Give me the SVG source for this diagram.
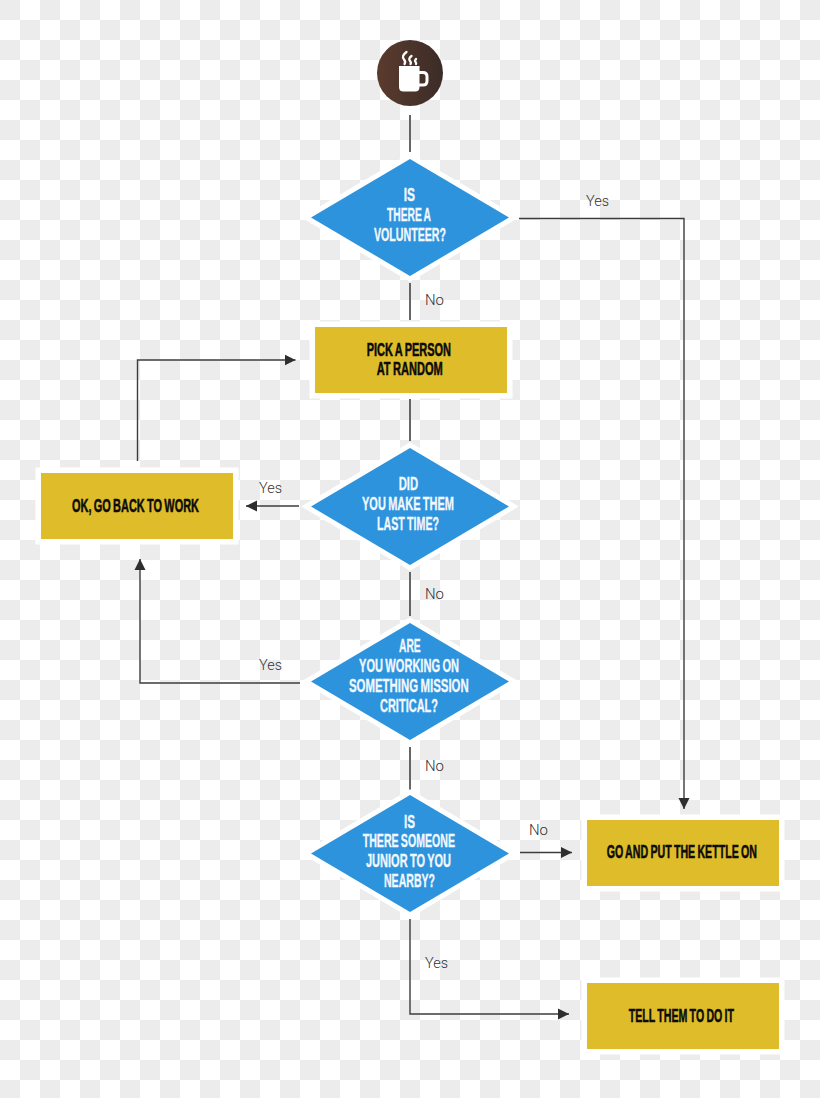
<svg xmlns="http://www.w3.org/2000/svg" width="820" height="1098" viewBox="0 0 820 1098">
  <defs>
    <pattern id="checks" width="40" height="40" patternUnits="userSpaceOnUse">
      <rect width="40" height="40" fill="#ffffff"/>
      <rect width="20" height="20" fill="#ececec"/>
      <rect x="20" y="20" width="20" height="20" fill="#ececec"/>
    </pattern>
    <linearGradient id="mug-bg" x1="0" y1="0" x2="1" y2="0">
      <stop offset="0" stop-color="#5b3b2d"/>
      <stop offset="1" stop-color="#3b2c28"/>
    </linearGradient>
    <marker id="arrow" markerUnits="userSpaceOnUse" markerWidth="12" markerHeight="12" refX="11" refY="6" orient="auto">
      <path d="M0,0.5 L11,6 L0,11.5 z" fill="#2e2e2e"/>
    </marker>
  </defs>
  <style>
    .decision { fill: #2d93dd; stroke: #ffffff; stroke-width: 10; stroke-linejoin: miter; stroke-miterlimit: 10; paint-order: stroke; }
    .action { fill: #dfbc29; stroke: #ffffff; stroke-width: 11; paint-order: stroke; }
    .wire { fill: none; stroke: #3c3c3c; stroke-width: 1.4; }
    .stem { fill: none; stroke: #666666; stroke-width: 2; }
    .q { font-family: "Liberation Sans", Arial, sans-serif; font-weight: 700; font-size: 18.5px; word-spacing: -1.2px; fill: #f2f8fd; stroke: #f2f8fd; stroke-width: 0.35; }
    .a { font-family: "Liberation Sans", Arial, sans-serif; font-weight: 700; font-size: 18.5px; word-spacing: -1.2px; fill: #0c0c0c; stroke: #0c0c0c; stroke-width: 0.55; }
    .tag { font-family: Roboto, "Liberation Sans", sans-serif; font-weight: 300; font-size: 14.5px; fill: #333333; }
  </style>

  <rect id="backdrop" width="820" height="1098" fill="url(#checks)"/>

  <g id="connectors">
    <path class="stem" d="M410,115 V152"/>
    <path class="wire" d="M519,218.500 H684 V809" marker-end="url(#arrow)"/>
    <path class="stem" d="M410,283 V320"/>
    <path class="stem" d="M410,399 V441"/>
    <path class="wire" d="M137.500,461 V360 H295.500" marker-end="url(#arrow)"/>
    <path class="wire" d="M299,506 H246" marker-end="url(#arrow)"/>
    <path class="stem" d="M410,572 V616"/>
    <path class="wire" d="M300,683 H140 V559" marker-end="url(#arrow)"/>
    <path class="stem" d="M410,747 V790"/>
    <path class="wire" d="M520,852.500 H572" marker-end="url(#arrow)"/>
    <path class="wire" d="M410,919 V1014 H569" marker-end="url(#arrow)"/>
    <text class="tag" x="586" y="205.500" textLength="23" lengthAdjust="spacingAndGlyphs">Yes</text>
    <text class="tag" x="425" y="304.500" textLength="19" lengthAdjust="spacingAndGlyphs">No</text>
    <text class="tag" x="259" y="492.500" textLength="23" lengthAdjust="spacingAndGlyphs">Yes</text>
    <text class="tag" x="425" y="598.500" textLength="19" lengthAdjust="spacingAndGlyphs">No</text>
    <text class="tag" x="259" y="669.500" textLength="23" lengthAdjust="spacingAndGlyphs">Yes</text>
    <text class="tag" x="425" y="771" textLength="19" lengthAdjust="spacingAndGlyphs">No</text>
    <text class="tag" x="529" y="835" textLength="19" lengthAdjust="spacingAndGlyphs">No</text>
    <text class="tag" x="425" y="967.500" textLength="23" lengthAdjust="spacingAndGlyphs">Yes</text>
  </g>

  <g id="start">
    <circle cx="410" cy="73" r="33" fill="url(#mug-bg)"/>
    <path d="M399,66 H419.500 V87 Q419.500,91.500 415,91.500 H403.500 Q399,91.500 399,87 z" fill="#ffffff"/>
    <path d="M419,72.500 H423 Q427,72.500 427,76.500 V81 Q427,85 423,85 H419" fill="none" stroke="#ffffff" stroke-width="3"/>
    <path d="M406.500,52 Q401,56 404,59.500 Q406,62 404.500,64 M411.500,56 Q408,58.500 410,61 Q411.500,62.500 410.500,64 M416,59 Q414.500,61 415.500,62 Q416.500,63 416,64" fill="none" stroke="#ffffff" stroke-width="2.300" stroke-linecap="round"/>
  </g>

  <g id="volunteer">
    <polygon class="decision" points="410,159 509,217.500 410,276 311,217.500"/>
    <text class="q" x="403.700" y="201" textLength="11.300" lengthAdjust="spacingAndGlyphs">IS</text>
    <text class="q" x="387" y="221" textLength="44" lengthAdjust="spacingAndGlyphs">THERE A</text>
    <text class="q" x="374" y="240.500" textLength="72" lengthAdjust="spacingAndGlyphs">VOLUNTEER?</text>
  </g>

  <g id="pick-person">
    <rect class="action" x="315" y="327" width="192" height="66"/>
    <text class="a" x="366.700" y="355.500" textLength="84.300" lengthAdjust="spacingAndGlyphs">PICK A PERSON</text>
    <text class="a" x="376.700" y="375" textLength="66" lengthAdjust="spacingAndGlyphs">AT RANDOM</text>
  </g>

  <g id="last-time">
    <polygon class="decision" points="410,448 509,506.500 410,565 311,506.500"/>
    <text class="q" x="398.700" y="490" textLength="19.500" lengthAdjust="spacingAndGlyphs">DID</text>
    <text class="q" x="362" y="510" textLength="92" lengthAdjust="spacingAndGlyphs">YOU MAKE THEM</text>
    <text class="q" x="377" y="530" textLength="62" lengthAdjust="spacingAndGlyphs">LAST TIME?</text>
  </g>

  <g id="back-to-work">
    <rect class="action" x="41" y="473" width="192" height="66"/>
    <text class="a" x="72" y="511.500" textLength="127" lengthAdjust="spacingAndGlyphs">OK, GO BACK TO WORK</text>
  </g>

  <g id="mission-critical">
    <polygon class="decision" points="410,623 509,681.500 410,740 311,681.500"/>
    <text class="q" x="399" y="652" textLength="21.700" lengthAdjust="spacingAndGlyphs">ARE</text>
    <text class="q" x="359" y="672" textLength="100" lengthAdjust="spacingAndGlyphs">YOU WORKING ON</text>
    <text class="q" x="349" y="692" textLength="119.700" lengthAdjust="spacingAndGlyphs">SOMETHING MISSION</text>
    <text class="q" x="380" y="712" textLength="58" lengthAdjust="spacingAndGlyphs">CRITICAL?</text>
  </g>

  <g id="someone-junior">
    <polygon class="decision" points="410,795 509,853.500 410,912 311,853.500"/>
    <text class="q" x="404" y="827.500" textLength="11" lengthAdjust="spacingAndGlyphs">IS</text>
    <text class="q" x="362.700" y="847" textLength="92.300" lengthAdjust="spacingAndGlyphs">THERE SOMEONE</text>
    <text class="q" x="366" y="867" textLength="85" lengthAdjust="spacingAndGlyphs">JUNIOR TO YOU</text>
    <text class="q" x="384" y="887" textLength="51" lengthAdjust="spacingAndGlyphs">NEARBY?</text>
  </g>

  <g id="put-kettle-on">
    <rect class="action" x="587" y="820" width="192" height="66"/>
    <text class="a" transform="translate(606.700,858) scale(0.6,1)" textLength="250.500" lengthAdjust="spacingAndGlyphs">GO AND PUT THE KETTLE ON</text>
  </g>

  <g id="tell-them">
    <rect class="action" x="587" y="983" width="192" height="66"/>
    <text class="a" x="628.700" y="1021.500" textLength="105.300" lengthAdjust="spacingAndGlyphs">TELL THEM TO DO IT</text>
  </g>
</svg>
